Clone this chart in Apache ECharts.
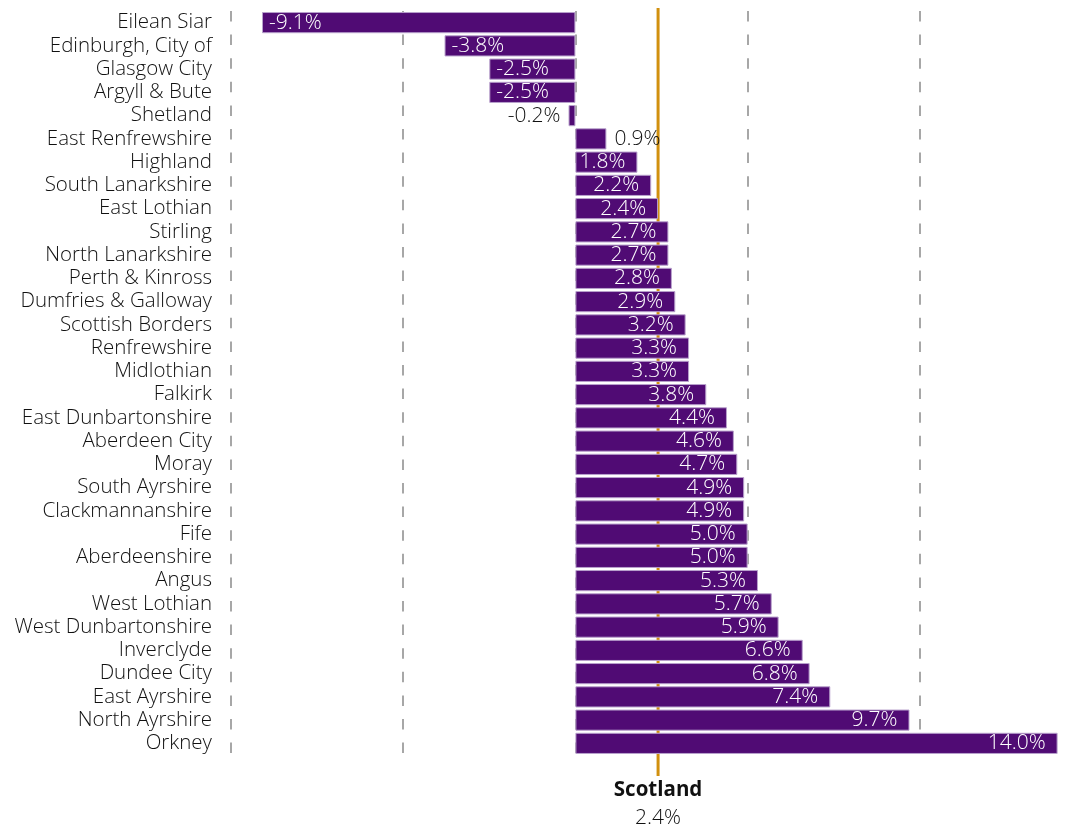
<!DOCTYPE html>
<html>
<head>
<meta charset="utf-8">
<script src="https://cdn.jsdelivr.net/npm/echarts@6/dist/echarts.min.js"></script>
<style>
  html, body { margin: 0; padding: 0; background: #fff; }
  #chart { width: 1090px; height: 829px; }
</style>
</head>
<body>
<div id="chart"></div>
<script>
// Council areas, top to bottom
const councils = [
  'Eilean Siar', 'Edinburgh, City of', 'Glasgow City', 'Argyll & Bute', 'Shetland',
  'East Renfrewshire', 'Highland', 'South Lanarkshire', 'East Lothian', 'Stirling',
  'North Lanarkshire', 'Perth & Kinross', 'Dumfries & Galloway', 'Scottish Borders',
  'Renfrewshire', 'Midlothian', 'Falkirk', 'East Dunbartonshire', 'Aberdeen City',
  'Moray', 'South Ayrshire', 'Clackmannanshire', 'Fife', 'Aberdeenshire', 'Angus',
  'West Lothian', 'West Dunbartonshire', 'Inverclyde', 'Dundee City', 'East Ayrshire',
  'North Ayrshire', 'Orkney'
];

// Percentage change for each council area
const change = [
  -9.1, -3.8, -2.5, -2.5, -0.2,
  0.9, 1.8, 2.2, 2.4, 2.7,
  2.7, 2.8, 2.9, 3.2,
  3.3, 3.3, 3.8, 4.4, 4.6,
  4.7, 4.9, 4.9, 5.0, 5.0, 5.3,
  5.7, 5.9, 6.6, 6.8, 7.4,
  9.7, 14.0
];

// National figure
const scotlandName = 'Scotland';
const scotlandValue = 2.4;

// Reference gridline positions
const gridTicks = [-10, -5, 0, 5, 10];

const FONT = '"Open Sans", sans-serif';
const PURPLE = '#500b74';
const GOLD = '#d1900e';

const fmt = v => v.toFixed(1) + '%';

function labelFor(v) {
  const small = Math.abs(v) < 1;
  if (small) {
    return { position: v < 0 ? 'left' : 'right', color: '#111', distance: 8 };
  }
  return { position: v < 0 ? 'insideLeft' : 'insideRight', color: '#fff', distance: v < 0 ? 7 : 12 };
}

const barData = change.map(v => ({ value: v, label: labelFor(v) }));

const chart = echarts.init(document.getElementById('chart'));

const option = {
  animation: false,
  backgroundColor: '#fff',
  grid: { left: 231, right: 32.4, top: 11, bottom: 74, containLabel: false },
  xAxis: {
    type: 'value',
    min: -10,
    max: 14,
    show: false,
    splitLine: { show: false }
  },
  yAxis: {
    type: 'category',
    inverse: true,
    data: councils,
    axisLine: { show: false },
    axisTick: { show: false },
    axisLabel: {
      interval: 0, fontFamily: FONT, fontWeight: 300, fontSize: 20.5,
      color: '#111', margin: 19
    }
  },
  series: [
    {
      // dashed reference lines behind the bars
      type: 'line',
      data: [],
      z: 0,
      silent: true,
      markLine: {
        z: 0,
        silent: true,
        symbol: 'none',
        label: { show: false },
        lineStyle: { color: '#8a8a8a', width: 1.5, type: [10.5, 13.1], dashOffset: 0 },
        data: gridTicks.map(t => ({ xAxis: t }))
      }
    },
    {
      type: 'bar',
      data: barData,
      z: 10,
      barCategoryGap: '9%',
      itemStyle: { color: PURPLE, borderColor: '#b8a1cc', borderWidth: 1 },
      label: {
        show: true,
        fontFamily: FONT,
        fontWeight: 300,
        fontSize: 21,
        formatter: p => fmt(p.value)
      }
    }
  ]
};

chart.setOption(option);

// National average line and caption, positioned through the x scale
const sx = chart.convertToPixel({ xAxisIndex: 0 }, scotlandValue);
chart.setOption({
  graphic: [
    {
      type: 'line',
      z: 1,
      silent: true,
      shape: { x1: sx, y1: 8, x2: sx, y2: 776 },
      style: { stroke: GOLD, lineWidth: 3 }
    },
    {
      type: 'text',
      x: sx, y: 790,
      style: {
        text: scotlandName, fontFamily: FONT, fontWeight: 'bold', fontSize: 20.5,
        fill: '#111', align: 'center', verticalAlign: 'middle'
      }
    },
    {
      type: 'text',
      x: sx, y: 818,
      style: {
        text: fmt(scotlandValue), fontFamily: FONT, fontWeight: 300, fontSize: 21,
        fill: '#111', align: 'center', verticalAlign: 'middle'
      }
    }
  ]
});
</script>
</body>
</html>
